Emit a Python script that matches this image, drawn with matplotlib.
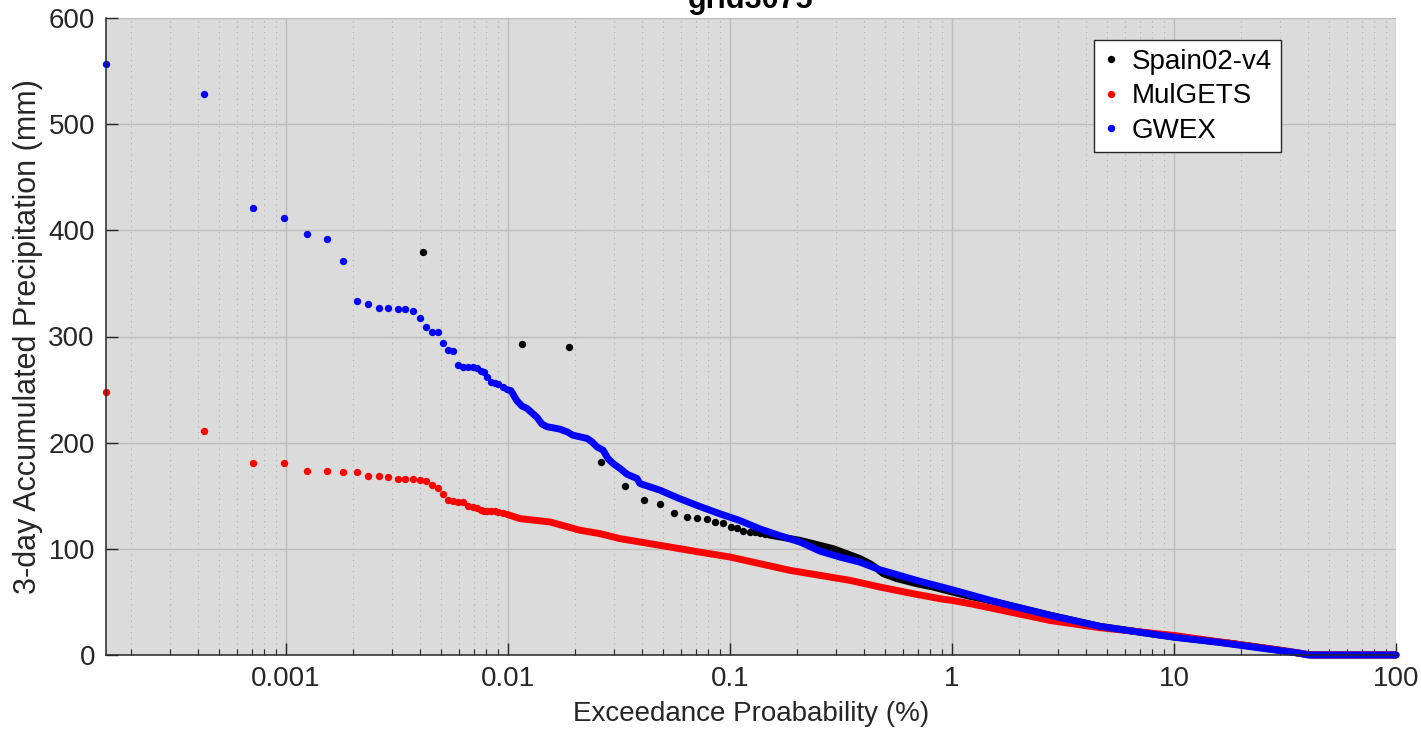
import numpy as np
import matplotlib

matplotlib.use("Agg")
import matplotlib.pyplot as plt
from matplotlib.ticker import LogLocator, FixedLocator, FixedFormatter, NullFormatter

plt.rcParams["font.family"] = ["Liberation Sans", "DejaVu Sans"]

TITLE = "grid3075"
SERIES = ["Spain02-v4", "MulGETS", "GWEX"]
COLORS = ["#000000", "#ff0000", "#0000ff"]

# exceedance probabilities (%) of the largest, isolated values (shared by MulGETS and GWEX)
prob_top = [1.546e-4, 4.27e-4, 7.10e-4, 9.79e-4, 1.243e-3, 1.530e-3, 1.806e-3, 2.088e-3,
            2.341e-3, 2.624e-3, 2.880e-3, 3.195e-3, 3.436e-3, 3.734e-3, 4.014e-3, 4.272e-3,
            4.547e-3, 4.838e-3, 5.096e-3, 5.367e-3, 5.653e-3, 5.955e-3, 6.271e-3, 6.605e-3,
            6.956e-3, 7.25e-3, 7.556e-3, 7.795e-3, 8.04e-3, 8.38e-3, 8.74e-3, 9.02e-3, 9.50e-3]
gwex_top = [557, 528, 421, 412, 397, 392, 371, 333, 331, 327, 327, 326, 326, 324, 317, 309,
            304, 304, 294, 287, 286, 273, 271.5, 271, 271, 270, 267.5, 266.8, 262, 257.4,
            256.4, 255.2, 252]
mulgets_top = [248, 211, 181, 181, 173, 173, 172, 172, 169, 169, 168, 166, 166, 166, 165, 164,
               160, 157, 152, 146, 145, 144, 144, 140, 139, 138.5, 137, 136, 136, 135.8,
               135.5, 134.5, 133.5]

# Spain02 isolated values
spain_top_prob = [0.00415, 0.01156, 0.01888, 0.02624, 0.03374, 0.0411, 0.0485, 0.0557, 0.0638,
                  0.0710, 0.0785, 0.0855, 0.0933, 0.1007, 0.1076, 0.1149, 0.1231, 0.1297,
                  0.1366, 0.1438]
spain_top = [380, 293, 290, 182, 159, 146, 142, 134, 130, 129, 128, 125, 124, 120.6, 120, 117,
             116, 116, 115, 114]

# dense parts of the curves
gwex_prob = [0.0099, 0.01031, 0.01075, 0.01098, 0.01157, 0.01218, 0.01283, 0.01351, 0.01423,
             0.01499, 0.01595, 0.01715, 0.01845, 0.01963, 0.0211, 0.02269, 0.02389, 0.02517,
             0.02679, 0.02822, 0.02972, 0.03196, 0.03436, 0.03811, 0.0393, 0.0484, 0.0591,
             0.0727, 0.0894, 0.110, 0.135, 0.166, 0.207, 0.254, 0.312, 0.384, 0.472, 0.58,
             0.7, 1.0, 1.645, 2.77, 4.64, 7.79, 10, 15.6, 26.1, 37, 40.1, 100]
gwex_val = [250, 249, 242.6, 239.4, 234.4, 232.3, 228, 223.8, 217.5, 215, 214, 212.7, 210.2,
            207, 205.5, 204, 200.8, 196, 193, 185, 180.4, 175.7, 170.3, 166.2, 161.5, 155.2,
            147.4, 140.1, 133.2, 126.9, 119.1, 112.7, 106.4, 97.9, 92.3, 87.5, 80.4, 75, 70,
            61.5, 49, 37.3, 26.9, 20, 16.8, 12.1, 5.8, 1.7, 0, 0]

mulgets_prob = [0.0099, 0.0113, 0.01546, 0.0211, 0.02597, 0.03195, 0.04361, 0.0591, 0.0727,
                0.1, 0.1365, 0.1864, 0.2543, 0.3471, 0.474, 0.647, 0.883, 1.0, 1.21, 1.645,
                2.77, 4.64, 10, 18.45, 31, 37, 41, 100]
mulgets_val = [132.5, 128.5, 125.3, 117.5, 114.3, 109.6, 104.9, 100.2, 97, 92.3, 86, 79.7, 75,
               70.3, 64, 58.3, 53, 51.4, 48.3, 42.5, 32.5, 25.7, 18.4, 10.6, 4.2, 1.7, 0, 0]

spain_prob = [0.15, 0.2066, 0.254, 0.291, 0.335, 0.385, 0.427, 0.45, 0.49, 0.563, 0.693, 0.82,
              1.16, 1.59, 2.77, 4.64, 10, 18, 30, 38, 42, 100]
spain_val = [113, 108, 103.3, 100.2, 95.5, 90.8, 86, 82.8, 76.6, 72, 67.2, 64, 56, 49.8, 37.5,
             27, 17, 11, 4.5, 1, 0, 0]

x_ticks = [0.001, 0.01, 0.1, 1, 10, 100]
x_tick_labels = ["0.001", "0.01", "0.1", "1", "10", "100"]
y_ticks = [0, 100, 200, 300, 400, 500, 600]

TXT = "#262626"
MS = 5.3
LW = 5.0

fig = plt.figure(figsize=(14.21, 7.40), dpi=100)
ax = fig.add_axes([106 / 1421, 1 - 655 / 740, 1290 / 1421, 637 / 740])
ax.set_facecolor("#dbdbdb")

common = dict(marker="o", linestyle="none", ms=MS, mew=0, clip_on=False)
ax.plot(spain_top_prob, spain_top, color=COLORS[0], label=SERIES[0], **common)
ax.plot(spain_prob, spain_val, color=COLORS[0], lw=LW, solid_capstyle="round", clip_on=False)
ax.plot(prob_top, mulgets_top, color=COLORS[1], label=SERIES[1], **common)
ax.plot(mulgets_prob, mulgets_val, color=COLORS[1], lw=LW, solid_capstyle="round", clip_on=False)
ax.plot(prob_top, gwex_top, color=COLORS[2], label=SERIES[2], **common)
ax.plot(gwex_prob, gwex_val, color=COLORS[2], lw=LW, solid_capstyle="round", clip_on=False)

ax.set_xscale("log")
ax.set_xlim(prob_top[0], 100)
ax.set_ylim(0, 600)
ax.xaxis.set_major_locator(FixedLocator(x_ticks))
ax.xaxis.set_major_formatter(FixedFormatter(x_tick_labels))
ax.xaxis.set_minor_locator(LogLocator(base=10, subs=np.arange(2, 10), numticks=20))
ax.xaxis.set_minor_formatter(NullFormatter())
ax.set_yticks(y_ticks)

ax.grid(True, which="major", color="#bcbcbc", lw=1.0)
ax.grid(True, which="minor", axis="x", color="#b0b0b0", lw=0.8, linestyle=(0, (1, 4)))
ax.set_axisbelow(True)

for side in ["top", "right"]:
    ax.spines[side].set_visible(False)
for side in ["left", "bottom"]:
    ax.spines[side].set_color(TXT)
    ax.spines[side].set_linewidth(1.1)

ax.tick_params(which="major", direction="in", length=8.5, width=1, color=TXT,
               labelcolor=TXT, labelsize=20)
ax.tick_params(which="minor", direction="in", length=4.5, width=0.8, color=TXT)
ax.tick_params(axis="x", pad=8)
ax.tick_params(axis="y", pad=8)

ax.set_xlabel("Exceedance Proabability (%)", fontsize=20, color=TXT)
ax.set_ylabel("3-day Accumulated Precipitation (mm)", fontsize=22, color=TXT)
ax.xaxis.set_label_coords(0.5, -0.072)
ax.yaxis.set_label_coords(-0.049, 0.5)

fig.text(751 / 1421, 1 - 8.3 / 740, TITLE, ha="center", va="baseline",
         fontsize=22, fontweight="bold", color="#000000")

leg = ax.legend(loc="upper right", bbox_to_anchor=((1281 - 106) / 1290, (655 - 40) / 637),
                borderaxespad=0, fontsize=20, frameon=True, fancybox=False,
                framealpha=1, edgecolor="#262626", handlelength=0.6, handletextpad=0.45,
                labelspacing=0.3, borderpad=0.32, markerscale=1.0)
leg.get_frame().set_linewidth(1.0)

fig.savefig("out.png", dpi=100)
